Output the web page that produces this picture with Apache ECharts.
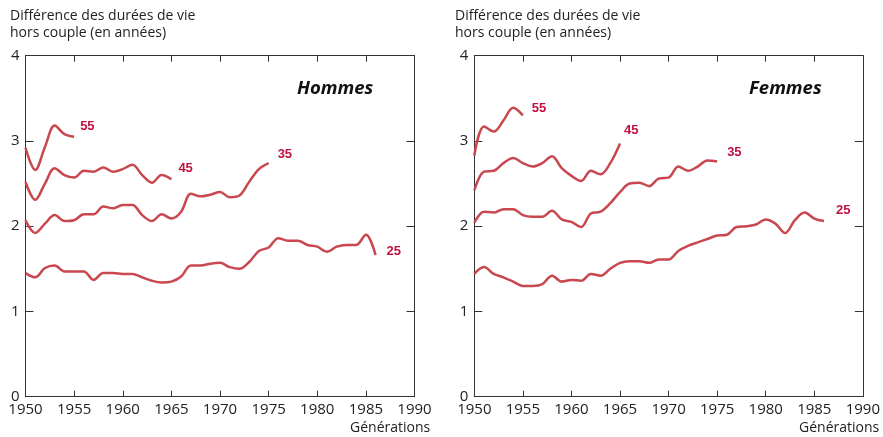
<!DOCTYPE html>
<html>
<head>
<meta charset="utf-8">
<script src="https://cdn.jsdelivr.net/npm/echarts@6/dist/echarts.min.js"></script>
<style>
  html, body { margin: 0; padding: 0; background: #fff; }
  #main { width: 883px; height: 437px; }
</style>
</head>
<body>
<div id="main"></div>
<script>
// generations, one value per year starting in 1950
var startYear = 1950;

// Hommes
var hommes55 = [2.92, 2.66, 2.93, 3.18, 3.08, 3.05];
var hommes45 = [2.52, 2.31, 2.50, 2.68, 2.60, 2.57, 2.65, 2.64, 2.69, 2.64, 2.67, 2.72, 2.60, 2.51, 2.60, 2.55];
var hommes35 = [2.07, 1.92, 2.03, 2.13, 2.06, 2.07, 2.14, 2.14, 2.23, 2.21, 2.25, 2.25, 2.13, 2.06, 2.14, 2.09,
                2.17, 2.38, 2.35, 2.37, 2.40, 2.34, 2.36, 2.52, 2.67, 2.74];
var hommes25 = [1.45, 1.40, 1.51, 1.54, 1.47, 1.47, 1.47, 1.37, 1.45, 1.45, 1.44, 1.44, 1.40, 1.36, 1.34, 1.35,
                1.41, 1.54, 1.54, 1.56, 1.57, 1.52, 1.50, 1.58, 1.71, 1.75, 1.86, 1.83, 1.83, 1.78, 1.76, 1.70,
                1.76, 1.78, 1.78, 1.90, 1.66];

// Femmes
var femmes55 = [2.83, 3.17, 3.11, 3.24, 3.39, 3.30];
var femmes45 = [2.42, 2.64, 2.65, 2.74, 2.80, 2.74, 2.70, 2.74, 2.82, 2.68, 2.59, 2.53, 2.65, 2.61, 2.74, 2.97];
var femmes35 = [2.04, 2.17, 2.16, 2.20, 2.20, 2.13, 2.11, 2.11, 2.18, 2.08, 2.05, 1.99, 2.15, 2.17, 2.27, 2.40,
                2.50, 2.51, 2.47, 2.56, 2.57, 2.70, 2.65, 2.70, 2.77, 2.76];
var femmes25 = [1.44, 1.52, 1.44, 1.40, 1.35, 1.30, 1.30, 1.32, 1.42, 1.35, 1.37, 1.36, 1.44, 1.42, 1.50, 1.57,
                1.59, 1.59, 1.57, 1.61, 1.61, 1.71, 1.77, 1.81, 1.85, 1.89, 1.90, 1.99, 2.00, 2.02, 2.08, 2.03,
                1.92, 2.07, 2.16, 2.09, 2.06];

var xTicks = [1950, 1955, 1960, 1965, 1970, 1975, 1980, 1985, 1990];
var yTicks = [0, 1, 2, 3, 4];

var lineColor = '#c9474f';
var labelColor = '#c2103f';
var textColor = '#222';
var font = '"Open Sans", "DejaVu Sans", sans-serif';

function pairs(values) {
    var out = [];
    for (var i = 0; i < values.length; i++) {
        out.push([startYear + i, values[i]]);
    }
    return out;
}

function mkSeries(name, values, grid, offset) {
    return {
        name: name,
        type: 'line',
        xAxisIndex: grid * 2,
        yAxisIndex: grid * 2,
        data: pairs(values),
        smooth: 0.35,
        showSymbol: false,
        symbol: 'none',
        lineStyle: { color: lineColor, width: 2.5 },
        endLabel: {
            show: true,
            formatter: name,
            distance: 0,
            offset: offset,
            color: labelColor,
            fontFamily: 'Liberation Sans, Arial, sans-serif',
            fontWeight: 'bold',
            fontSize: 13
        },
        silent: true
    };
}

function xAxes(grid) {
    var base = {
        type: 'value',
        gridIndex: grid,
        min: xTicks[0],
        max: xTicks[xTicks.length - 1],
        interval: 5,
        splitLine: { show: false },
        axisLine: { show: true, onZero: false, lineStyle: { color: '#333', width: 1 } },
        axisTick: { show: true, inside: true, length: 6, lineStyle: { color: '#333' } }
    };
    var bottom = Object.assign({}, base, {
        position: 'bottom',
        axisLabel: {
            color: textColor, fontFamily: font, fontSize: 15, margin: 6,
            formatter: function (v) { return String(v); }
        }
    });
    var top = Object.assign({}, base, {
        position: 'top',
        axisLabel: { show: false }
    });
    return [bottom, top];
}

function yAxes(grid) {
    var base = {
        type: 'value',
        gridIndex: grid,
        min: yTicks[0],
        max: yTicks[yTicks.length - 1],
        interval: 1,
        splitLine: { show: false },
        axisLine: { show: true, onZero: false, lineStyle: { color: '#333', width: 1 } },
        axisTick: { show: true, inside: true, length: 8, lineStyle: { color: '#333' } }
    };
    var left = Object.assign({}, base, {
        position: 'left',
        axisLabel: { color: textColor, fontFamily: font, fontSize: 15, margin: 6, verticalAlign: 'middle', padding: [0, 0, 4, 0] }
    });
    var right = Object.assign({}, base, {
        position: 'right',
        axisLabel: { show: false }
    });
    return [left, right];
}

function txt(x, y, text, extra) {
    return {
        type: 'text',
        left: x,
        top: y,
        silent: true,
        style: Object.assign({
            text: text,
            fill: textColor,
            font: '14px ' + font
        }, extra || {})
    };
}

var dom = document.getElementById('main');
var myChart = echarts.init(dom);

var option = {
    animation: false,
    backgroundColor: '#fff',
    grid: [
        { left: 25.5, right: 468.5, top: 55.7, bottom: 40.3 },
        { left: 474.3, right: 19.7, top: 55.7, bottom: 40.3 }
    ],
    xAxis: xAxes(0).concat(xAxes(1)),
    yAxis: yAxes(0).concat(yAxes(1)),
    series: [
        mkSeries('55', hommes55, 0, [6, -10]),
        mkSeries('45', hommes45, 0, [7, -11]),
        mkSeries('35', hommes35, 0, [9, -9]),
        mkSeries('25', hommes25, 0, [11, -4]),
        mkSeries('55', femmes55, 1, [9, -7]),
        mkSeries('45', femmes45, 1, [4, -13]),
        mkSeries('35', femmes35, 1, [10, -9]),
        mkSeries('25', femmes25, 1, [12, -11])
    ],
    graphic: [
        txt(10, 9, 'Différence des durées de vie'),
        txt(10, 26, 'hors couple (en années)'),
        txt(455, 9, 'Différence des durées de vie'),
        txt(455, 26, 'hors couple (en années)'),
        txt(297, 79, 'Hommes', { font: 'italic bold 18.5px ' + font, fill: '#111' }),
        txt(749, 79, 'Femmes', { font: 'italic bold 18.5px ' + font, fill: '#111' }),
        txt(350, 421, 'Générations'),
        txt(799, 421, 'Générations')
    ]
};

if (option && typeof option === "object") {
    myChart.setOption(option, true);
}
</script>
</body>
</html>
